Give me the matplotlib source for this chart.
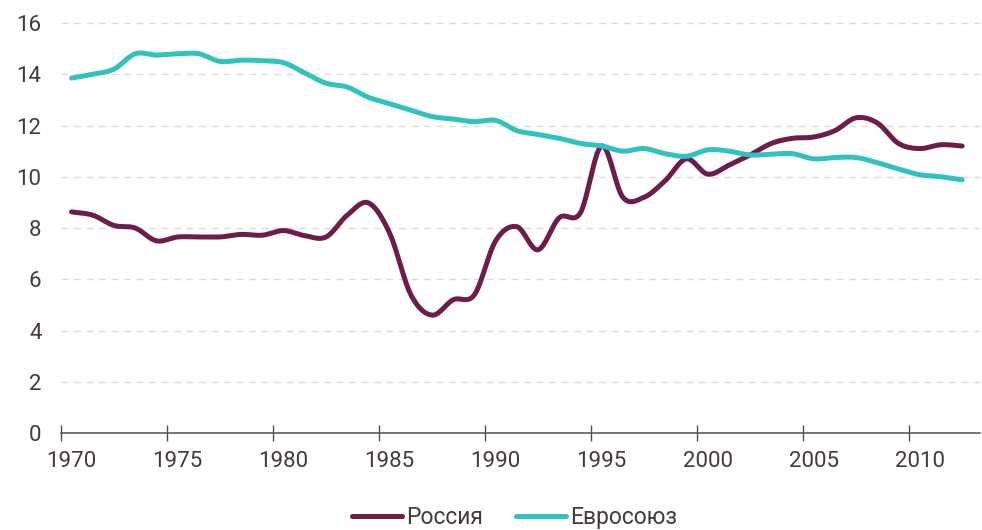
import numpy as np
import matplotlib
matplotlib.use("Agg")
import matplotlib.pyplot as plt

plt.rcParams['font.family'] = ['Roboto', 'DejaVu Sans']

years = np.arange(1970, 2013)

russia = [8.63, 8.5, 8.1, 8.0, 7.5, 7.65, 7.65, 7.65, 7.75, 7.72,
          7.9, 7.7, 7.65, 8.5, 8.98, 7.8, 5.4, 4.6, 5.2, 5.4,
          7.5, 8.05, 7.15, 8.4, 8.6, 11.2, 9.2, 9.2, 9.85, 10.7,
          10.1, 10.45, 10.85, 11.3, 11.5, 11.55, 11.8, 12.3, 12.1, 11.3,
          11.1, 11.25, 11.2]

eu = [13.85, 14.0, 14.2, 14.8, 14.75, 14.8, 14.8, 14.5, 14.55, 14.53,
      14.45, 14.05, 13.65, 13.5, 13.1, 12.85, 12.6, 12.35, 12.25, 12.15,
      12.2, 11.8, 11.65, 11.5, 11.3, 11.2, 11.0, 11.1, 10.9, 10.8,
      11.05, 11.0, 10.85, 10.88, 10.9, 10.7, 10.75, 10.75, 10.55, 10.3,
      10.08, 10.0, 9.88]

labels = ['Россия', 'Евросоюз']
colors = ['#6e1c4b', '#2fc2bf']
text_color = '#453a3b'


def smooth(x, y, n=20):
    # Catmull-Rom curve through every point
    x = np.asarray(x, float)
    y = np.asarray(y, float)
    px = np.concatenate([[2 * x[0] - x[1]], x, [2 * x[-1] - x[-2]]])
    py = np.concatenate([[2 * y[0] - y[1]], y, [2 * y[-1] - y[-2]]])
    t = np.linspace(0, 1, n, endpoint=False)
    xs, ys = [], []
    for i in range(1, len(px) - 2):
        for p, out in ((px, xs), (py, ys)):
            p0, p1, p2, p3 = p[i - 1], p[i], p[i + 1], p[i + 2]
            out.append(0.5 * (2 * p1 + (-p0 + p2) * t
                              + (2 * p0 - 5 * p1 + 4 * p2 - p3) * t ** 2
                              + (-p0 + 3 * p1 - 3 * p2 + p3) * t ** 3))
    xs.append([x[-1]])
    ys.append([y[-1]])
    return np.concatenate(xs), np.concatenate(ys)


fig = plt.figure(figsize=(9.82, 5.30), dpi=100)
ax = fig.add_axes([0.0621, 0.183, 0.936, 0.7736])

for series, name, c in zip([russia, eu], labels, colors):
    sx, sy = smooth(years, series)
    ax.plot(sx, sy, color=c, lw=3.6, solid_capstyle='round', label=name, zorder=3)

ax.set_ylim(0, 16)
ax.set_xlim(1969.5, 2012.85)
ax.set_yticks(np.arange(0, 17, 2))
for v in np.arange(2, 17, 2):
    ax.axhline(v, color='#e6d8dc', lw=1.0, ls=(0, (5, 4)), zorder=1, clip_on=False)

# tick marks sit between years, labels centred on the year
ax.set_xticks(np.arange(1970, 2011, 5) - 0.5)
ax.set_xticks(np.arange(1970, 2011, 5), minor=True)
ax.set_xticklabels(np.arange(1970, 2011, 5), minor=True)
ax.tick_params(axis='x', which='major', direction='inout', length=12,
               width=1.0, color='#5a4d4e', labelbottom=False)
ax.tick_params(axis='x', which='minor', length=0, pad=13,
               labelsize=16, labelcolor=text_color)
ax.tick_params(axis='y', length=0, pad=14, labelsize=16, labelcolor=text_color)

for side in ['top', 'right', 'left']:
    ax.spines[side].set_visible(False)
ax.spines['bottom'].set_color('#5a4d4e')
ax.spines['bottom'].set_linewidth(1.1)

leg = fig.legend(loc='center', bbox_to_anchor=(0.524, 0.024), ncol=2,
                 frameon=False, fontsize=16.5, handlelength=2.2,
                 handletextpad=0.2, columnspacing=1.4)
for t in leg.get_texts():
    t.set_color(text_color)

fig.savefig('out.png', dpi=100)
